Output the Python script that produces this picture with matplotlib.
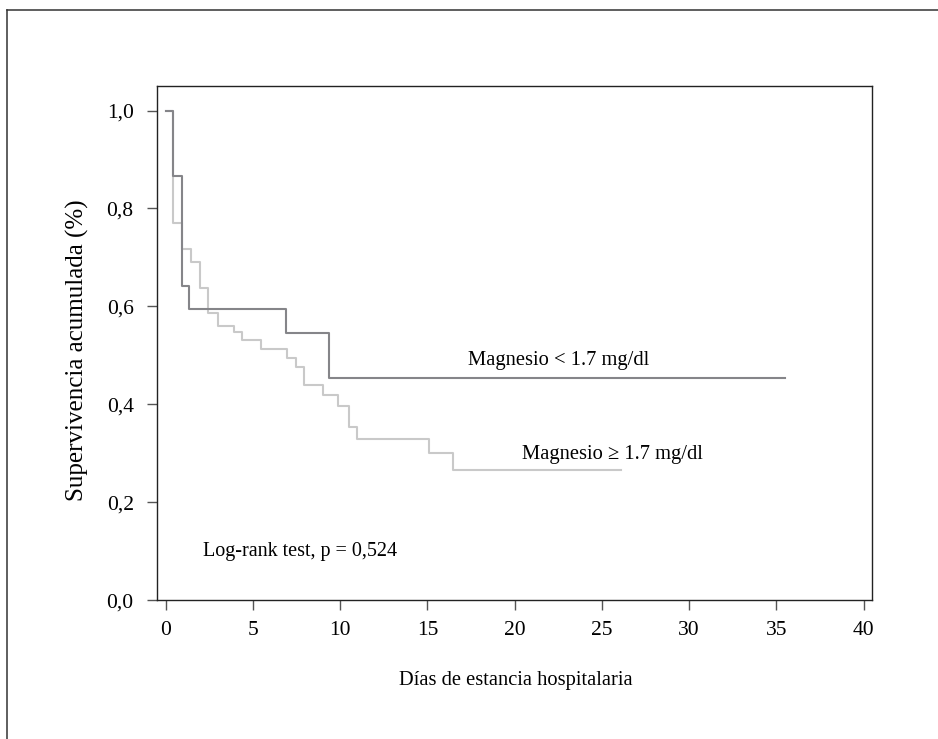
#!/usr/bin/env python3
"""Kaplan-Meier curves: supervivencia acumulada por nivel de magnesio."""
import matplotlib
matplotlib.use('Agg')
import matplotlib.pyplot as plt
from matplotlib.lines import Line2D

# Magnesio < 1.7 mg/dl
low_t = [0, 0.42, 0.92, 1.32, 6.88, 9.36, 35.5]
low_s = [1.0, 0.866, 0.641, 0.594, 0.546, 0.453, 0.453]

# Magnesio >= 1.7 mg/dl
high_t = [0, 0.42, 0.92, 1.43, 1.97, 2.41, 2.98, 3.91, 4.39, 5.46, 6.97,
          7.49, 7.94, 9.0, 9.89, 10.5, 10.98, 15.07, 16.47, 26.07]
high_s = [1.0, 0.770, 0.717, 0.690, 0.637, 0.587, 0.560, 0.547, 0.532, 0.514,
          0.494, 0.476, 0.439, 0.419, 0.397, 0.353, 0.330, 0.301, 0.266, 0.266]

xticks = [0, 5, 10, 15, 20, 25, 30, 35, 40]
yticks = [0.0, 0.2, 0.4, 0.6, 0.8, 1.0]
ytick_labels = ['0,0', '0,2', '0,4', '0,6', '0,8', '1,0']

plt.rcParams['font.family'] = ['Liberation Serif', 'DejaVu Serif']

fig = plt.figure(figsize=(9.38, 7.39), dpi=100)
ax = fig.add_axes([0.1677, 0.1877, 0.7623, 0.6959])

# outer frame (only top and left edges visible in the crop)
fig.add_artist(Line2D([7 / 938, 1.0], [1 - 10 / 739, 1 - 10 / 739],
                      transform=fig.transFigure, color='#333333', lw=1.1))
fig.add_artist(Line2D([7 / 938, 7 / 938], [0.0, 1 - 10 / 739],
                      transform=fig.transFigure, color='#333333', lw=1.1))

ax.step(high_t, high_s, where='post', color='#c9c9c9', lw=1.5)
ax.step(low_t, low_s, where='post', color='#858589', lw=1.5)

ax.set_xlim(-0.48, 40.5)
ax.set_ylim(0, 1.05)
ax.set_xticks(xticks)
ax.set_yticks(yticks)
ax.set_yticklabels(ytick_labels)
ax.tick_params(axis='both', labelsize=15.5, length=7, width=1.0, color='#555555')
ax.tick_params(axis='x', pad=8)
ax.tick_params(axis='y', pad=10)
for sp in ax.spines.values():
    sp.set_linewidth(1.0)
    sp.set_color('#222222')

ax.set_xlabel('Días de estancia hospitalaria', fontsize=14.8)
ax.set_ylabel('Supervivencia acumulada (%)', fontsize=18)
ax.xaxis.set_label_coords(0.502, -0.155)
ax.xaxis.label.set_va('center')
ax.yaxis.set_label_coords(-0.111, 0.487)
ax.yaxis.label.set_va('center')

ax.text(17.3, 0.481, 'Magnesio < 1.7 mg/dl', fontsize=14.8, va='baseline')
ax.text(20.4, 0.289, 'Magnesio ≥ 1.7 mg/dl', fontsize=14.8, va='baseline')
ax.text(2.14, 0.09, 'Log-rank test, p = 0,524', fontsize=14.5, va='baseline')

fig.savefig('out.png', dpi=100)
